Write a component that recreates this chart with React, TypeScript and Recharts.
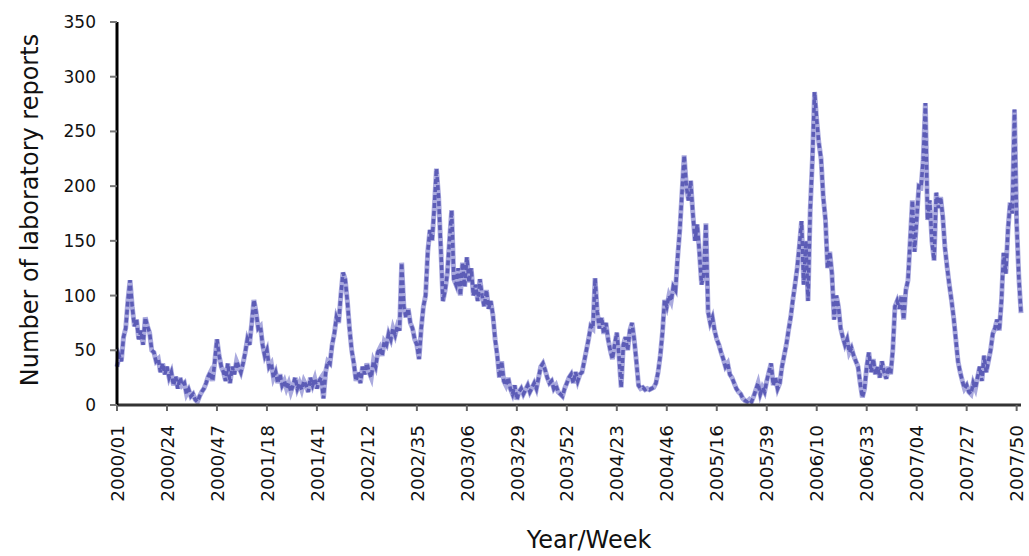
import React from "react";
import { LineChart, Line, XAxis, YAxis, Label } from "recharts";

const years = [2000, 2001, 2002, 2003, 2004, 2005, 2006, 2007];
const weeksPerYear = [52, 52, 52, 52, 53, 52, 52, 52];

const reports2000 = [
  35, 45, 40, 62, 70, 95, 114, 90, 72, 78, 60, 68, 55,
  80, 72, 66, 50, 48, 40, 42, 30, 38, 28, 35, 25, 30,
  18, 26, 15, 25, 18, 20, 10, 14, 8, 10, 5, 3, 8,
  12, 15, 20, 26, 30, 22, 40, 60, 45, 35, 30, 22, 38,
];
const reports2001 = [
  20, 35, 28, 40, 35, 30, 38, 48, 60, 55, 75, 96, 85,
  70, 72, 55, 45, 50, 35, 38, 25, 30, 20, 28, 18, 22,
  15, 20, 12, 18, 25, 15, 20, 14, 22, 18, 12, 25, 18,
  24, 15, 22, 25, 6, 30, 40, 38, 55, 65, 80, 75, 100,
];
const reports2002 = [
  121, 115, 95, 70, 50, 38, 22, 30, 20, 35, 28, 38, 30,
  25, 40, 35, 48, 52, 45, 58, 55, 65, 60, 70, 64, 72,
  68, 130, 90, 80, 88, 75, 70, 60, 55, 42, 70, 90, 100,
  140, 160, 150, 180, 216, 190, 144, 95, 105, 120, 150, 178, 115,
];
const reports2003 = [
  110, 125, 100, 130, 108, 135, 112, 125, 100, 110, 95, 115, 100,
  90, 105, 88, 95, 82, 60, 45, 25, 40, 22, 18, 25, 15,
  10, 18, 5, 12, 15, 10, 14, 18, 12, 16, 20, 15, 25,
  35, 38, 32, 25, 20, 22, 15, 18, 12, 10, 8, 15, 20,
];
const reports2004 = [
  25, 28, 20, 30, 22, 28, 30, 40, 50, 60, 72, 70, 116,
  85, 70, 80, 65, 75, 60, 50, 42, 55, 66, 45, 16, 55,
  62, 50, 68, 75, 60, 40, 18, 15, 16, 14, 15, 14, 15,
  16, 20, 30, 45, 66, 96, 90, 100, 95, 108, 105, 135, 160, 194,
];
const reports2005 = [
  228, 200, 187, 205, 175, 150, 165, 140, 110, 120, 166, 85, 75,
  80, 68, 60, 55, 48, 42, 35, 38, 28, 25, 20, 15, 12,
  10, 6, 4, 3, 5, 3, 8, 14, 20, 10, 16, 12, 22,
  30, 38, 18, 25, 15, 20, 35, 45, 55, 68, 80, 96, 110,
];
const reports2006 = [
  125, 145, 168, 110, 150, 95, 178, 224, 286, 260, 239, 225, 190,
  170, 125, 140, 120, 78, 100, 90, 70, 62, 55, 60, 48, 52,
  45, 40, 35, 20, 7, 15, 35, 48, 30, 42, 28, 35, 25,
  40, 30, 24, 35, 28, 50, 90, 95, 88, 100, 78, 105, 114,
];
const reports2007 = [
  150, 187, 140, 170, 200, 199, 224, 276, 169, 187, 150, 132, 194,
  180, 190, 172, 144, 126, 110, 96, 80, 60, 40, 30, 22, 15,
  18, 12, 10, 20, 15, 25, 35, 22, 45, 30, 40, 50, 65,
  70, 78, 68, 95, 139, 120, 160, 185, 175, 270, 166, 117, 84,
];

const tickLabels = [
  "2000/01", "2000/24", "2000/47", "2001/18", "2001/41", "2002/12",
  "2002/35", "2003/06", "2003/29", "2003/52", "2004/23", "2004/46",
  "2005/16", "2005/39", "2006/10", "2006/33", "2007/04", "2007/27",
  "2007/50",
];
const yTicks = [0, 50, 100, 150, 200, 250, 300, 350];

const allReports = [
  ...reports2000, ...reports2001, ...reports2002, ...reports2003,
  ...reports2004, ...reports2005, ...reports2006, ...reports2007,
];

const weeks: string[] = [];
years.forEach((yr, k) => {
  for (let w = 1; w <= weeksPerYear[k]; w++) {
    weeks.push(`${yr}/${w < 10 ? "0" + w : w}`);
  }
});

const data = weeks.map((week, i) => ({ week, reports: allReports[i] }));

const FONT = "'DejaVu Sans', Verdana, sans-serif";

const WeekTick = (props: any) => {
  const { x, y, payload } = props;
  return (
    <g transform={`translate(${x},${y + 12})`}>
      <text
        x={0}
        y={0}
        dy="0.36em"
        textAnchor="end"
        transform="rotate(-90)"
        fill="#111"
        fontSize={18.5}
        fontFamily={FONT}
      >
        {payload.value}
      </text>
    </g>
  );
};

export default function App() {
  return (
    <div style={{ position: "absolute", left: 0, top: 0, background: "#fff" }}>
      <LineChart
        width={1029}
        height={556}
        data={data}
        margin={{ top: 22, right: 8, left: 0, bottom: 0 }}
      >
        <XAxis
          dataKey="week"
          scale="point"
          height={151}
          ticks={tickLabels}
          interval={0}
          tick={<WeekTick />}
          tickSize={6}
          tickLine={{ stroke: "#666", strokeWidth: 2 }}
          axisLine={{ stroke: "#333", strokeWidth: 3 }}
        >
          <Label
            content={() => (
              <text
                x={589}
                y={548}
                textAnchor="middle"
                fontSize={24}
                fontFamily={FONT}
                fill="#111"
              >
                Year/Week
              </text>
            )}
          />
        </XAxis>
        <YAxis
          width={117}
          domain={[0, 350]}
          ticks={yTicks}
          interval={0}
          tickSize={7}
          tickMargin={14}
          tick={{ fill: "#111", fontSize: 17, fontFamily: FONT }}
          tickLine={{ stroke: "#777", strokeWidth: 2 }}
          axisLine={{ stroke: "#000", strokeWidth: 3 }}
        >
          <Label
            content={() => (
              <text
                x={30}
                y={210}
                textAnchor="middle"
                dominantBaseline="central"
                transform="rotate(-90, 30, 210)"
                fontSize={24}
                fontFamily={FONT}
                fill="#111"
              >
                Number of laboratory reports
              </text>
            )}
          />
        </YAxis>
        <Line
          type="linear"
          dataKey="reports"
          stroke="#aaaade"
          strokeWidth={5}
          dot={false}
          activeDot={false}
          isAnimationActive={false}
        />
        <Line
          type="linear"
          dataKey="reports"
          stroke="#5c5cb6"
          strokeWidth={3.5}
          strokeDasharray="5 3"
          dot={false}
          activeDot={false}
          isAnimationActive={false}
        />
      </LineChart>
    </div>
  );
}
